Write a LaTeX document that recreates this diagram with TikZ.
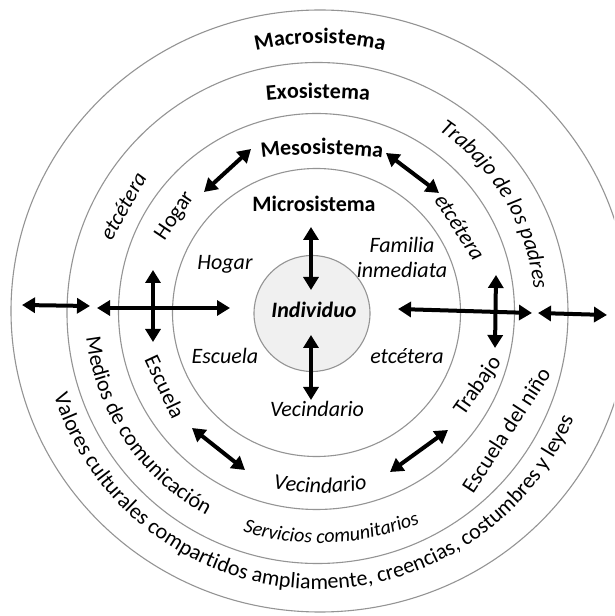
\documentclass[tikz,border=0pt]{standalone}
\usepackage{fontspec}
\setmainfont{Carlito}
\usetikzlibrary{arrows.meta,decorations.text}
\begin{document}
\begin{tikzpicture}[x=1pt,y=1pt,
  ring/.style={draw=black!42, line width=1.1pt},
  dbl/.style={line width=4pt, {Triangle[length=13pt,width=15pt]}-{Triangle[length=13pt,width=15pt]}},
  lab/.style={font=\fontsize{22}{25}\selectfont\itshape, inner sep=0pt},
  labup/.style={font=\fontsize{22}{25}\selectfont, inner sep=0pt},
  ttl/.style={font=\fontsize{22}{25}\selectfont\bfseries, inner sep=0pt},
  curved/.style={decorate, decoration={text along path, text align=center, text={#1}}}
]
\useasboundingbox (0,0) rectangle (614,616);
\fill[white] (0,0) rectangle (614,616);
\clip (0,0) rectangle (614,616);

% rings
\draw[ring] (320,305) ellipse [x radius=309, y radius=301];
\draw[ring] (317.5,303) circle [radius=250.5];
\draw[ring] (316.5,304.5) circle [radius=198];
\draw[ring] (316.5,303.5) circle [radius=144];
\draw[ring, fill=black!6] (312,302.5) circle [radius=58];

% straight labels
\node[ttl, anchor=base] (micro) at (314,404) {Microsistema};
\node[ttl, font=\fontsize{22}{25}\selectfont\bfseries\itshape, anchor=base] (indiv) at (314,298) {Individuo};
\node[lab, anchor=base] (hogar1) at (225,346) {Hogar};
\node[lab, align=center] (fam) at (402,359) {Familia\\inmediata};
\node[lab, anchor=base] (esc1) at (225,252) {Escuela};
\node[lab, anchor=base] (etc1) at (407,252) {etcétera};
\node[lab, anchor=base] (vec1) at (317,199) {Vecindario};

% rotated labels
\node[labup, rotate=56] (hogar2) at (175,400) {Hogar};
\node[lab, rotate=61] (etc2) at (123,410) {etcétera};
\node[lab, rotate=-57] (etc3) at (460,389) {etcétera};
\node[labup, rotate=-65] (esc2) at (165,229) {Escuela};
\node[labup, rotate=55] (trab2) at (478,230) {Trabajo};
\node[labup, rotate=57] (escn) at (506,186) {Escuela del niño};

% curved labels
\path[curved={|\fontsize{22}{25}\selectfont\bfseries|Macrosistema}]
  (320,293) ++(120:280) arc[start angle=120, end angle=60, radius=280];
\path[curved={|\fontsize{22}{25}\selectfont\bfseries|Exosistema}]
  (318,18) ++(105:500) arc[start angle=105, end angle=75, radius=500];
\path[curved={|\fontsize{22}{25}\selectfont\bfseries|Mesosistema}]
  (322,12) ++(105:450) arc[start angle=105, end angle=75, radius=450];
\path[curved={|\fontsize{22}{25}\selectfont\itshape|Vecindario}]
  (320,383) ++(240:260) arc[start angle=240, end angle=300, radius=260];
\path[curved={|\fontsize{20}{24}\selectfont\itshape|Servicios comunitarios}]
  (319,340) ++(232.8:267) arc[start angle=232.8, end angle=312.8, radius=267];
\path[curved={|\fontsize{22}{25}\selectfont|Valores culturales compartidos ampliamente, creencias, costumbres y leyes}]
  (318,304) ++(182.5:277) arc[start angle=182.5, end angle=352.5, radius=277];
\path[curved={|\fontsize{22}{25}\selectfont|Medios de comunicación}]
  (316,304) ++(179:231) arc[start angle=179, end angle=249, radius=231];
\path[curved={|\fontsize{22}{25}\selectfont\itshape|Trabajo de los padres}]
  (316,304) ++(66:219) arc[start angle=66, end angle=-4, radius=219];

% arrow end points
\coordinate (a1a) at (311,389); \coordinate (a1b) at (311,326);
\coordinate (a2a) at (311,281); \coordinate (a2b) at (311,216);
\coordinate (a3a) at (97,308);  \coordinate (a3b) at (230,308);
\coordinate (a4a) at (153,346); \coordinate (a4b) at (153,274);
\coordinate (a5a) at (22,311);  \coordinate (a5b) at (90,310);
\coordinate (a6a) at (398,307); \coordinate (a6b) at (532,303);
\coordinate (a7a) at (496,341); \coordinate (a7b) at (495,268);
\coordinate (a8a) at (538,303); \coordinate (a8b) at (607,301);
\coordinate (a9a) at (204,424); \coordinate (a9b) at (251,467);
\coordinate (a10a) at (386,463); \coordinate (a10b) at (439,423);
\coordinate (a11a) at (192,188); \coordinate (a11b) at (245,146);
\coordinate (a12a) at (448,186); \coordinate (a12b) at (390,144);

\draw[dbl] (a1a) -- (a1b);
\draw[dbl] (a2a) -- (a2b);
\draw[dbl] (a3a) -- (a3b);
\draw[dbl] (a4a) -- (a4b);
\draw[dbl] (a5a) -- (a5b);
\draw[dbl] (a6a) -- (a6b);
\draw[dbl] (a7a) -- (a7b);
\draw[dbl] (a8a) -- (a8b);
\draw[dbl] (a9a) -- (a9b);
\draw[dbl] (a10a) -- (a10b);
\draw[dbl] (a11a) -- (a11b);
\draw[dbl] (a12a) -- (a12b);
\end{tikzpicture}
\end{document}
